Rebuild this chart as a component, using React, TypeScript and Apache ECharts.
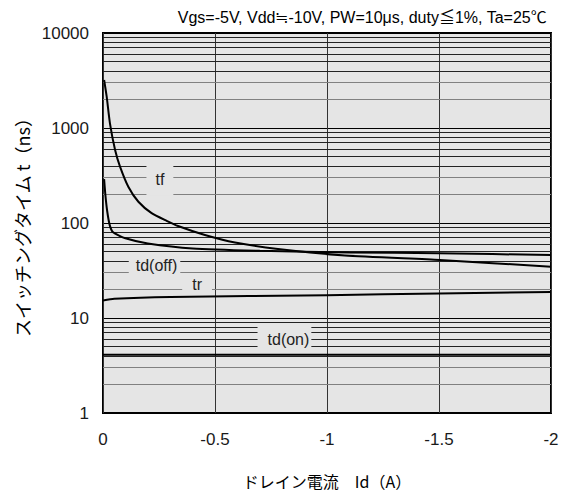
import React, { useEffect, useRef } from "react";
import * as echarts from "echarts";

// Drain current Id (A) and switching times (ns)
const tfX = [-0.005, -0.0165, -0.031, -0.054, -0.076, -0.113, -0.158, -0.217, -0.284, -0.335, -0.455, -0.589, -0.781, -1.08, -1.504, -2.0];
const tfY = [3200, 2134, 1120, 586, 392, 241, 167.5, 127, 105.5, 93, 74.8, 62.3, 53.2, 45.5, 40.8, 34.6];

const tdOffX = [-0.005, -0.01, -0.018, -0.03, -0.045, -0.1, -0.2, -0.4, -0.7, -1.1, -1.5, -2.0];
const tdOffY = [290, 205, 137, 95, 80, 69, 61, 54, 51, 49, 48, 46];

const trX = [0, -0.05, -0.3, -1.0, -1.5, -2.0];
const trY = [15.3, 15.9, 16.6, 17.4, 18.1, 18.8];

const tdOnX = [0, -2.0];
const tdOnY = [4.1, 4.1];

const xTicks = [0, -0.5, -1, -1.5, -2];
const yTicks = [1, 10, 100, 1000, 10000];

// minor log grid values
const minorLight = [2, 3, 20, 30, 200, 300, 2000, 3000];
const minorDark = [4, 5, 6, 7, 8, 9, 40, 50, 60, 70, 80, 90, 400, 500, 600, 700, 800, 900, 4000, 5000, 6000, 7000, 8000, 9000];

// curve label anchors (data coordinates)
const labelNames = ["tf", "td(off)", "tr", "td(on)"];
const labelX = [-0.254, -0.23, -0.42, -0.81];
const labelY = [290, 36, 22.3, 5.9];
const labelPad = [
  [7, 9, 9, 9],
  [4, 3, 4, 7],
  [3, 10, 3, 10],
  [5, 2, 5, 10],
];

const title = "Vgs=-5V, Vdd≒-10V, PW=10μs, duty≦1%, Ta=25℃";
const xName = "ドレイン電流　Id（A）";
const yName = "スイッチングタイム t（ns）";

const zip = (xs: number[], ys: number[]) => xs.map((x, i) => [x, ys[i]]);

const FONT = "'Liberation Sans', 'Noto Sans CJK JP', sans-serif";
const JP = "'Noto Sans CJK JP', 'Liberation Sans', sans-serif";
const BG = "#e5e5e5";

export default function App() {
  const ref = useRef<HTMLDivElement>(null);
  useEffect(() => {
    if (!ref.current) return;
    const chart = echarts.init(ref.current, undefined, { renderer: "svg" });
    const curve = (name: string, data: number[][]) => ({
      name,
      type: "line",
      data,
      showSymbol: false,
      symbol: "none",
      smooth: 0.2,
      z: 5,
      lineStyle: { color: "#000", width: 2 },
    });
    const gridSeries = (vals: number[], color: string) => ({
      type: "line",
      data: [],
      z: 1,
      silent: true,
      markLine: {
        silent: true,
        symbol: "none",
        label: { show: false },
        lineStyle: { type: "solid", color, width: 1 },
        data: vals.map((v) => ({ yAxis: v })),
      },
    });
    chart.setOption({
      animation: false,
      backgroundColor: "#fff",
      title: {
        text: title,
        right: 11,
        top: 4,
        textStyle: { fontSize: 16, fontWeight: "normal", color: "#000", fontFamily: FONT },
      },
      grid: {
        left: 103,
        right: 12,
        top: 33,
        bottom: 88,
        show: true,
        backgroundColor: BG,
        borderColor: "#000",
        borderWidth: 2,
      },
      xAxis: {
        type: "value",
        min: -2,
        max: 0,
        interval: 0.5,
        inverse: true,
        name: xName,
        nameLocation: "middle",
        nameGap: 60,
        nameTextStyle: { fontSize: 16, color: "#000", fontFamily: JP },
        axisLine: { show: false },
        axisTick: { show: false },
        axisLabel: {
          fontSize: 17,
          color: "#1a1a1a",
          margin: 18,
          fontFamily: FONT,
          formatter: (v: number) => (xTicks.includes(v) ? String(v) : ""),
        },
        splitLine: { show: true, lineStyle: { color: "#333", width: 1 } },
      },
      yAxis: {
        type: "log",
        logBase: 10,
        min: 1,
        max: 10000,
        name: yName,
        nameLocation: "middle",
        nameGap: 64,
        nameTextStyle: { fontSize: 18, color: "#000", fontFamily: JP },
        axisLine: { show: false },
        axisTick: { show: false },
        axisLabel: {
          fontSize: 17,
          color: "#1a1a1a",
          margin: 14,
          fontFamily: FONT,
          formatter: (v: number) => {
            const r = Math.round(v);
            return yTicks.includes(r) ? String(r) : "";
          },
        },
        splitLine: { show: true, lineStyle: { color: "#000", width: 1 } },
      },
      series: [
        gridSeries(minorLight, "#808080"),
        gridSeries(minorDark, "#222"),
        curve("tf", zip(tfX, tfY)),
        curve("td(off)", zip(tdOffX, tdOffY)),
        curve("tr", zip(trX, trY)),
        curve("td(on)", zip(tdOnX, tdOnY)),
        {
          type: "scatter",
          data: [],
          z: 4,
          silent: true,
          markPoint: {
            silent: true,
            symbol: "rect",
            symbolSize: 0,
            data: labelNames.map((n, i) => ({
              name: n,
              coord: [labelX[i], labelY[i]],
              label: {
                show: true,
                position: "inside",
                formatter: n,
                fontSize: 16,
                color: "#222",
                fontFamily: FONT,
                backgroundColor: BG,
                padding: labelPad[i],
              },
            })),
          },
        },
      ],
    });
    return () => chart.dispose();
  }, []);
  return (
    <div
      ref={ref}
      style={{ position: "fixed", left: 0, top: 0, width: 563, height: 501 }}
    />
  );
}
